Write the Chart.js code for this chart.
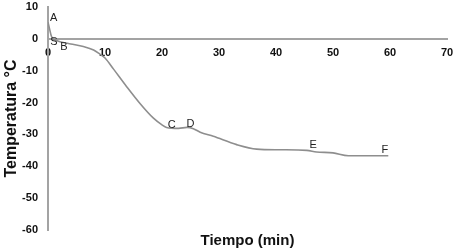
<!DOCTYPE html>
<html>
<head>
<meta charset="utf-8">
<script src="https://cdn.jsdelivr.net/npm/chart.js@4/dist/chart.umd.min.js"></script>
<style>
html,body{margin:0;padding:0;background:#fff;}
#wrap{width:456px;height:251px;}
</style>
</head>
<body>
<div id="wrap"><canvas id="c" width="456" height="251"></canvas></div>
<script>
// Curve: time (min) and temperature (°C)
const timeMin = [0, 0.3, 0.6, 0.9, 1.5, 2.1, 4, 6.2, 8, 9.1, 10, 11.5, 13.8, 16.1, 18.5, 20, 20.8, 22.9, 24.4, 25.5, 26.7, 29, 33.1, 36.6, 40.7, 45.4, 47.1, 50, 52.7, 55.9, 59.7];
const tempC   = [5.2, 2.9, 0.8, 0, -0.5, -0.9, -1.6, -2.4, -3.5, -4.8, -6, -9.5, -15, -20.2, -24.9, -27, -27.8, -28.1, -27.8, -28.2, -29.3, -30.6, -33.2, -34.6, -34.8, -35, -35.5, -35.8, -36.7, -36.7, -36.7];

// Point labels on the curve
const pointNames = ['A', 'S', 'B', 'C', 'D', 'E', 'F'];
const pointTime  = [1.0, 1.05, 2.8, 21.7, 25.0, 46.5, 59.1];
const pointTemp  = [6.7, -1.1, -2.6, -27, -26.7, -33.2, -35.0];

// Axis ranges / ticks
const xTicks = [0, 10, 20, 30, 40, 50, 60, 70];
const yTicks = [10, 0, -10, -20, -30, -40, -50, -60];

const curve = timeMin.map((t, i) => ({x: t, y: tempC[i]}));

const axisColor = '#a3a3a3';
const tickFont = {family: "'Liberation Sans', Arial, sans-serif", size: 11, weight: 'bold'};

const labelPlugin = {
  id: 'pointLabels',
  afterDatasetsDraw(chart) {
    const ctx = chart.ctx;
    const xs = chart.scales.x, ys = chart.scales.y;
    ctx.save();
    ctx.font = "11px 'Liberation Sans', Arial, sans-serif";
    ctx.fillStyle = '#222';
    ctx.textAlign = 'center';
    ctx.textBaseline = 'middle';
    pointNames.forEach((n, i) => {
      ctx.fillText(n, xs.getPixelForValue(pointTime[i]), ys.getPixelForValue(pointTemp[i]));
    });
    ctx.restore();
  }
};

new Chart(document.getElementById('c'), {
  type: 'scatter',
  data: {
    datasets: [{
      data: curve,
      showLine: true,
      borderColor: '#8e8e8e',
      borderWidth: 1.6,
      pointRadius: 0,
      cubicInterpolationMode: 'monotone',
      fill: false
    }]
  },
  options: {
    responsive: false,
    animation: false,
    devicePixelRatio: 1,
    layout: {padding: {top: 7, right: 9, left: 0, bottom: 0}},
    plugins: {legend: {display: false}, title: {display: false}, tooltip: {enabled: false}},
    scales: {
      x: {
        type: 'linear',
        position: {y: 0},
        min: xTicks[0], max: xTicks[xTicks.length - 1],
        afterBuildTicks: s => { s.ticks = xTicks.map(v => ({value: v})); },
        afterFit: s => { s.height = 0; s.paddingLeft = 0; s.paddingRight = 0; s.paddingTop = 0; s.paddingBottom = 0; },
        grid: {display: false, drawTicks: false},
        border: {display: true, color: axisColor, width: 2},
        ticks: {color: '#111', font: tickFont, padding: 8, maxRotation: 0}
      },
      x2: {
        type: 'linear',
        position: 'bottom',
        min: 0, max: 70,
        afterFit: s => { s.height = 21; s.paddingLeft = 0; s.paddingRight = 0; },
        grid: {display: false, drawTicks: false},
        border: {display: false},
        ticks: {display: false},
        title: {display: true, text: 'Tiempo (min)', color: '#111',
                font: {family: "'Liberation Sans', Arial, sans-serif", size: 15, weight: 'bold'},
                padding: {top: 0, bottom: 1}}
      },
      y: {
        type: 'linear',
        position: 'left',
        min: yTicks[yTicks.length - 1], max: yTicks[0],
        afterBuildTicks: s => { s.ticks = yTicks.slice().reverse().map(v => ({value: v})); },
        afterFit: s => { s.width = 48; s.paddingTop = 0; s.paddingBottom = 0; },
        grid: {display: false, drawTicks: false},
        border: {display: true, color: axisColor, width: 2},
        ticks: {color: '#111', font: tickFont, padding: 10},
        title: {display: true, text: 'Temperatura °C', color: '#111',
                font: {family: "'Liberation Sans', Arial, sans-serif", size: 16, weight: 'bold'},
                padding: {top: 2, bottom: 0}}
      }
    }
  },
  plugins: [labelPlugin]
});
</script>
</body>
</html>
